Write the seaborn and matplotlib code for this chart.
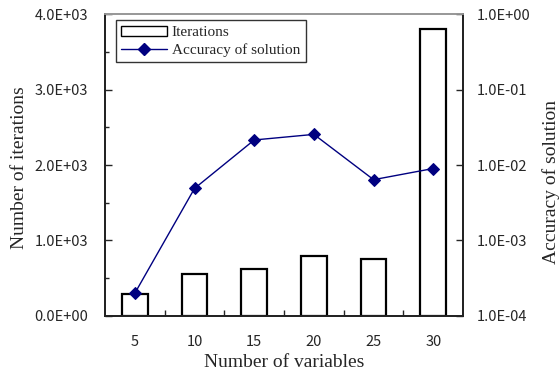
import numpy as np
import pandas as pd
import matplotlib
matplotlib.use("Agg")
import matplotlib.pyplot as plt
import seaborn as sns
from matplotlib.ticker import FuncFormatter, MultipleLocator, FixedLocator, NullLocator
from matplotlib.patches import Patch
from matplotlib.lines import Line2D

# data
variables = ["5", "10", "15", "20", "25", "30"]
iterations = [285, 555, 625, 790, 750, 3800]
accuracy = [2.0e-4, 4.9e-3, 2.15e-2, 2.55e-2, 6.4e-3, 9.0e-3]

df = pd.DataFrame({"variables": variables, "iterations": iterations, "accuracy": accuracy})

sns.set_style("ticks")
tick_font = ["Noto Sans CJK JP", "DejaVu Sans"]
label_font = ["Liberation Serif", "DejaVu Serif"]

fig = plt.figure(figsize=(5.6, 3.73), dpi=100)
ax = fig.add_axes([0.1875, 0.153, 0.6395, 0.809])

sns.barplot(data=df, x="variables", y="iterations", ax=ax, fill=False,
            edgecolor="black", linewidth=1.6, width=0.43)
ax.set_xlim(-0.5, 5.5)
ax.set_ylim(0, 4000)

ax2 = ax.twinx()
ax2.set_yscale("log")
sns.pointplot(data=df, x="variables", y="accuracy", ax=ax2, color="#000080",
              markers="D", markersize=6, linewidth=1.0)
ax2.set_ylim(1e-4, 1.0)
ax2.set_xlim(-0.5, 5.5)

# tick formatting
ax.yaxis.set_major_locator(MultipleLocator(1000))
ax.yaxis.set_minor_locator(MultipleLocator(500))
ax.yaxis.set_major_formatter(FuncFormatter(lambda v, p: f"{v:.1E}"))
ax2.yaxis.set_major_locator(FixedLocator([1e-4, 1e-3, 1e-2, 1e-1, 1.0]))
ax2.yaxis.set_minor_locator(NullLocator())
ax2.yaxis.set_major_formatter(FuncFormatter(lambda v, p: f"{v:.1E}"))

ax.xaxis.set_minor_locator(FixedLocator([0.5, 1.5, 2.5, 3.5, 4.5]))
ax.tick_params(axis="x", which="major", length=0, pad=14)
ax.tick_params(axis="x", which="minor", direction="in", length=4, width=1)
ax.tick_params(axis="y", which="major", direction="in", length=5, width=1, pad=12)
ax.tick_params(axis="y", which="minor", direction="in", length=3, width=1)
ax2.tick_params(axis="y", which="major", direction="in", length=5, width=1, pad=10)
ax2.tick_params(axis="x", length=0)

for lbl in ax.get_xticklabels() + ax.get_yticklabels() + ax2.get_yticklabels():
    lbl.set_family(tick_font)
    lbl.set_fontsize(10.5)

ax.set_xlabel("Number of variables", family=label_font, fontsize=14, labelpad=3)
ax.set_ylabel("Number of iterations", family=label_font, fontsize=14,
              rotation=90, va="center", ha="center")
ax.yaxis.set_label_coords(-0.24, 0.49)
ax2.set_ylabel("Accuracy of solution", family=label_font, fontsize=14,
               rotation=90, va="center", ha="center")
ax2.yaxis.set_label_coords(1.245, 0.445)

for a in (ax, ax2):
    for s in a.spines.values():
        s.set_color("#222222")
        s.set_linewidth(1.3)
    a.spines["top"].set_color("#999999")

handles = [Patch(facecolor="white", edgecolor="black", linewidth=1.0),
           Line2D([0], [0], color="#000080", marker="D", markersize=6, linewidth=1.0)]
leg = ax2.legend(handles, ["Iterations", "Accuracy of solution"], loc="upper left",
                 bbox_to_anchor=(0.031, 0.98), borderaxespad=0, frameon=True,
                 fancybox=False, edgecolor="black",
                 prop={"family": label_font, "size": 11},
                 handlelength=3, handletextpad=0.3, borderpad=0.35,
                 labelspacing=0.25)
leg.get_frame().set_linewidth(1.0)

fig.savefig("out.png", dpi=100)
